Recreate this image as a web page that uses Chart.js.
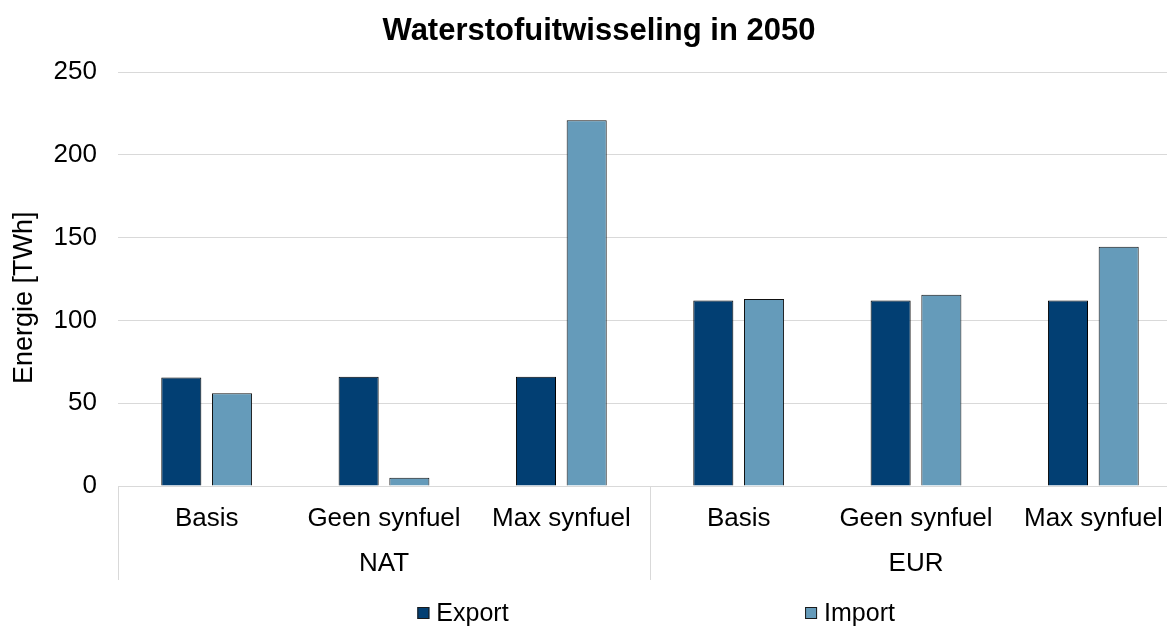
<!DOCTYPE html>
<html><head><meta charset="utf-8">
<script src="https://cdn.jsdelivr.net/npm/chart.js@4"></script>
<style>html,body{margin:0;padding:0;background:#fff;overflow:hidden}#wrap{width:1167px;height:627px;position:relative;overflow:hidden}</style>
</head><body><div id="wrap"><canvas id="c" width="1182" height="627"></canvas></div>
<script>
const scenarios = ['Basis', 'Geen synfuel', 'Max synfuel', 'Basis', 'Geen synfuel', 'Max synfuel'];
const groups = ['NAT', 'EUR'];
const exportValues = [65.5, 66, 66, 112, 112, 112];
const importValues = [56, 5, 221, 113, 115.5, 144.5];
const yTicks = [0, 50, 100, 150, 200, 250];
const seriesNames = ['Export', 'Import'];
const seriesColors = ['#023F73', '#659BBA'];
const yTitle = 'Energie [TWh]';

const FONT = "'Liberation Sans', Arial, sans-serif";

const decor = {
  id: 'decor',
  afterLayout(chart) {
    if (chart.titleBlock) { chart.titleBlock.left += 16; }
  },
  afterDraw(chart) {
    const {ctx, chartArea, scales} = chart;
    const x = scales.x, x2 = scales.x2;
    ctx.save();
    ctx.strokeStyle = '#d9d9d9';
    ctx.lineWidth = 1;
    const per = scenarios.length / groups.length;
    const sepBottom = x2.bottom;
    for (let g = 0; g <= groups.length; g++) {
      const idx = g * per;
      let px;
      if (idx === 0) px = chartArea.left;
      else if (idx >= scenarios.length) px = chartArea.right;
      else px = (x.getPixelForValue(idx - 1) + x.getPixelForValue(idx)) / 2;
      px = Math.round(px) + 0.5;
      ctx.beginPath();
      ctx.moveTo(px, chartArea.bottom);
      ctx.lineTo(px, sepBottom);
      ctx.stroke();
    }
    // y axis title
    ctx.save();
    ctx.translate(25, chartArea.top + (chartArea.bottom - chartArea.top) * 0.545);
    ctx.rotate(-Math.PI / 2);
    ctx.font = '27px ' + FONT;
    ctx.fillStyle = '#000';
    ctx.textAlign = 'center';
    ctx.textBaseline = 'middle';
    ctx.fillText(yTitle, 0, 0);
    ctx.restore();
    // legend
    const centers = [463, 850];
    const ly = 613;
    ctx.font = '25px ' + FONT;
    ctx.textBaseline = 'middle';
    ctx.textAlign = 'left';
    seriesNames.forEach((name, i) => {
      const tw = ctx.measureText(name).width;
      const box = 12, gap = 7;
      const total = box + gap + tw;
      const left = centers[i] - total / 2;
      ctx.fillStyle = seriesColors[i];
      ctx.fillRect(left, ly - box / 2, box, box);
      ctx.strokeStyle = '#1a1a1a';
      ctx.strokeRect(left + 0.5, ly - box / 2 + 0.5, box - 1, box - 1);
      ctx.fillStyle = '#000';
      ctx.fillText(name, left + box + gap, ly + 1);
    });
    ctx.restore();
  }
};

new Chart(document.getElementById('c'), {
  type: 'bar',
  data: {
    labels: scenarios,
    datasets: [
      {label: seriesNames[0], data: exportValues, backgroundColor: seriesColors[0], borderColor: '#000', borderWidth: 1},
      {label: seriesNames[1], data: importValues, backgroundColor: seriesColors[1], borderColor: '#111', borderWidth: 1}
    ]
  },
  options: {
    responsive: false,
    animation: false,
    categoryPercentage: 0.572,
    barPercentage: 0.79,
    layout: {padding: {left: 0, right: 0, top: 0, bottom: 47}},
    plugins: {
      legend: {display: false},
      tooltip: {enabled: false},
      title: {
        display: true,
        text: 'Waterstofuitwisseling in 2050',
        color: '#000',
        font: {family: FONT, size: 31, weight: 'bold'},
        padding: {top: 13, bottom: 22}
      }
    },
    scales: {
      x: {
        type: 'category',
        grid: {display: false, drawTicks: false},
        border: {display: true, color: '#d9d9d9', width: 1},
        ticks: {color: '#000', font: {family: FONT, size: 26}, padding: 17, autoSkip: false, maxRotation: 0, minRotation: 0},
        afterFit: s => { s.height = 50; }
      },
      x2: {
        type: 'category',
        labels: groups,
        position: 'bottom',
        grid: {display: false, drawTicks: false},
        border: {display: false},
        ticks: {color: '#000', font: {family: FONT, size: 26}, padding: 12, autoSkip: false, maxRotation: 0},
        afterFit: s => { s.height = 44; }
      },
      y: {
        min: 0, max: 250,
        afterBuildTicks: s => { s.ticks = yTicks.map(v => ({value: v})); },
        grid: {color: '#d9d9d9', drawTicks: false},
        border: {display: false},
        ticks: {color: '#000', font: {family: FONT, size: 26}, padding: 21},
        afterFit: s => { s.width = 118; }
      }
    }
  },
  plugins: [decor]
});
</script>
</body></html>
